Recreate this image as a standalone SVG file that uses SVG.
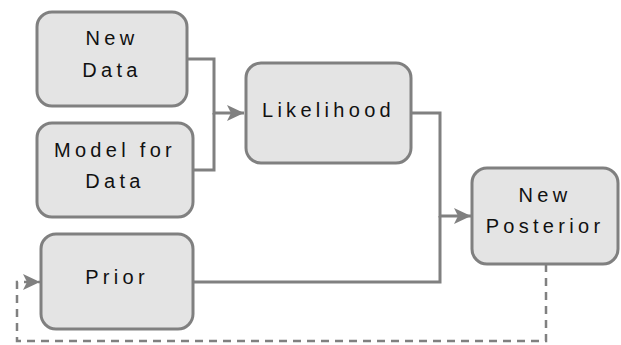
<svg xmlns="http://www.w3.org/2000/svg" width="621" height="345" viewBox="0 0 621 345">
  <style>
    .node rect { fill: #e4e4e4; stroke: #808080; stroke-width: 3; }
    .node text { font-family: "Liberation Sans", Arial, sans-serif; font-size: 20px; letter-spacing: 4.3px; fill: #111111; text-anchor: middle; }
    .edge { fill: none; stroke: #808080; stroke-width: 3; }
    .dashed { stroke-dasharray: 8 6; stroke-width: 2.5; }
  </style>
  <defs>
    <marker id="arrow" markerUnits="userSpaceOnUse" markerWidth="18" markerHeight="16" refX="17" refY="8" orient="auto">
      <path d="M0,0 L17,8 L0,16 L4,8 Z" fill="#808080"/>
    </marker>
  </defs>
  <rect width="621" height="345" fill="#ffffff"/>
  <g id="connectors">
    <path class="edge" d="M187,59 H214 V113 H244" marker-end="url(#arrow)"/>
    <path class="edge" d="M193,170 H214 V113"/>
    <path class="edge" d="M411,113 H440 V216 H471" marker-end="url(#arrow)"/>
    <path class="edge" d="M193,282 H440 V216"/>
    <path class="edge dashed" d="M546,264 V341 H17 V282 H40" marker-end="url(#arrow)"/>
  </g>
  <g id="new-data" class="node">
    <rect x="37" y="12" width="150" height="94" rx="15"/>
    <text x="112" y="45">New</text>
    <text x="112" y="77">Data</text>
  </g>
  <g id="model-for-data" class="node">
    <rect x="37" y="123" width="156" height="94" rx="15"/>
    <text x="115" y="157">Model for</text>
    <text x="115" y="188">Data</text>
  </g>
  <g id="likelihood" class="node">
    <rect x="246" y="63" width="165" height="100" rx="15"/>
    <text x="328.5" y="117">Likelihood</text>
  </g>
  <g id="prior" class="node">
    <rect x="41" y="234" width="152" height="95" rx="15"/>
    <text x="117" y="284">Prior</text>
  </g>
  <g id="new-posterior" class="node">
    <rect x="472" y="168" width="146" height="96" rx="15"/>
    <text x="545" y="202">New</text>
    <text x="545" y="233">Posterior</text>
  </g>
</svg>
